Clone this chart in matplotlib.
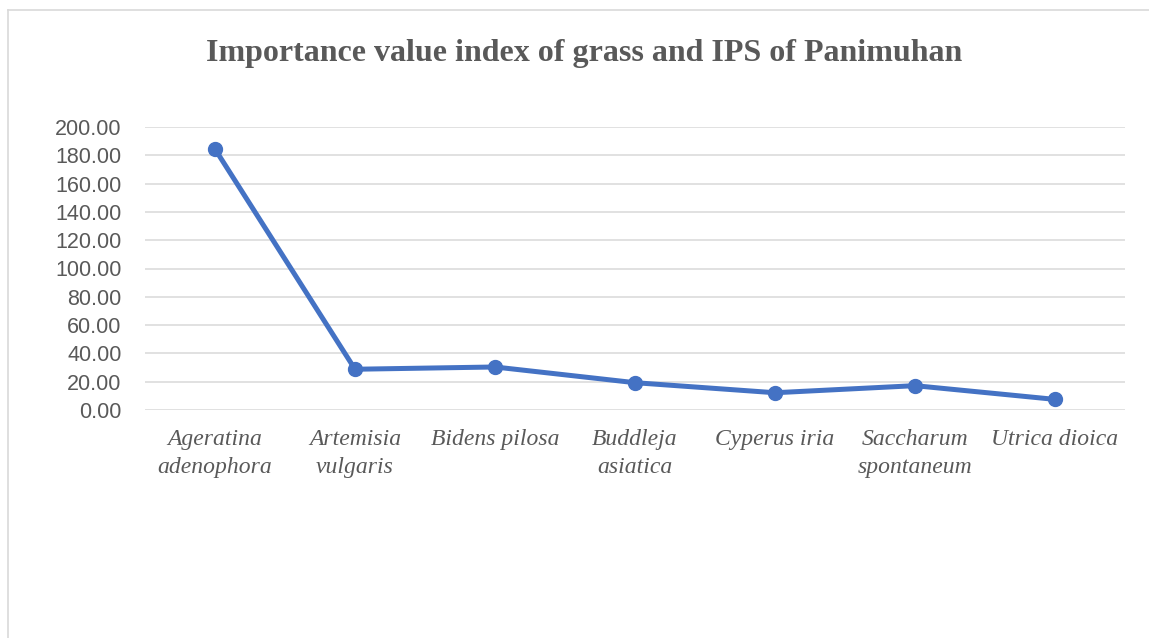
import matplotlib
matplotlib.use("Agg")
import matplotlib.pyplot as plt
from matplotlib.lines import Line2D

categories = ["Ageratina\nadenophora", "Artemisia\nvulgaris", "Bidens pilosa",
              "Buddleja\nasiatica", "Cyperus iria", "Saccharum\nspontaneum",
              "Utrica dioica"]
values = [184.4, 28.8, 30.4, 19.3, 12.2, 17.2, 7.5]
yticks = [0, 20, 40, 60, 80, 100, 120, 140, 160, 180, 200]
title = "Importance value index of grass and IPS of Panimuhan"

W, H = 1149, 638
fig = plt.figure(figsize=(W / 100, H / 100), dpi=100)
ax = fig.add_axes([145 / W, 1 - 410 / H, 980 / W, 283 / H])

x = list(range(len(categories)))
ax.plot(x, values, color="#4472C4", linewidth=3.6, marker="o", markersize=10,
        solid_capstyle="round", solid_joinstyle="round", zorder=3)

ax.set_xlim(-0.5, len(categories) - 0.5)
ax.set_ylim(0, 200)
ax.set_yticks(yticks)
ax.set_yticklabels([f"{v:.2f}" for v in yticks], fontfamily="Liberation Sans",
                   fontsize=15.5, color="#595959")
ax.set_xticks(x)
ax.set_xticklabels(categories, fontfamily="Liberation Serif", fontstyle="italic",
                   fontsize=17, color="#595959", linespacing=1.42)
ax.tick_params(axis="both", length=0)
ax.tick_params(axis="y", pad=17)
ax.tick_params(axis="x", pad=14)
ax.yaxis.grid(True, color="#d9d9d9", linewidth=1.1)
ax.set_axisbelow(True)
for s in ax.spines.values():
    s.set_visible(False)

fig.text(0.5 * (207 + 962) / W, 1 - 53 / H, title, ha="center", va="center",
         fontfamily="Liberation Serif", fontweight="bold", fontsize=23,
         color="#595959")

# chart border (light gray)
fig.add_artist(Line2D([7.5 / W, 7.5 / W], [0, 1 - 10 / H], transform=fig.transFigure,
                      color="#d9d9d9", linewidth=1.2))
fig.add_artist(Line2D([7.5 / W, 1], [1 - 10 / H, 1 - 10 / H], transform=fig.transFigure,
                      color="#d9d9d9", linewidth=1.2))

fig.savefig("out.png", dpi=100)
